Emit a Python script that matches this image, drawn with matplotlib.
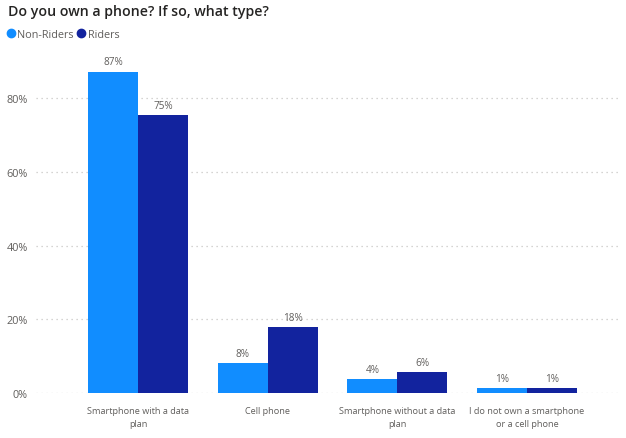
import matplotlib
matplotlib.use("Agg")
import matplotlib.pyplot as plt
from matplotlib.lines import Line2D
import numpy as np

categories = ["Smartphone with a data\nplan", "Cell phone",
              "Smartphone without a data\nplan", "I do not own a smartphone\nor a cell phone"]
non_riders = [87.2, 8.1, 3.8, 1.4]
riders = [75.4, 17.9, 5.7, 1.4]
non_riders_labels = ["87%", "8%", "4%", "1%"]
riders_labels = ["75%", "18%", "6%", "1%"]
yticks = [0, 20, 40, 60, 80]
ytick_labels = ["0%", "20%", "40%", "60%", "80%"]

plt.rcParams['font.family'] = ['Open Sans', 'DejaVu Sans']

c_non = "#118DFF"
c_rid = "#12239E"
gray = "#605E5C"

fig = plt.figure(figsize=(6.26, 4.39), dpi=100)
ax = fig.add_axes([0.0575, 0.1025, 0.9329, 0.7556])

x = np.arange(len(categories))
w = 0.385
b1 = ax.bar(x - w / 2, non_riders, w, color=c_non, zorder=3)
b2 = ax.bar(x + w / 2, riders, w, color=c_rid, zorder=3)
ax.bar_label(b1, labels=non_riders_labels, padding=3, fontsize=7.2, color=gray)
ax.bar_label(b2, labels=riders_labels, padding=3, fontsize=7.2, color=gray)

ax.set_xlim(-0.786, 3.716)
ax.set_ylim(0, 90)
ax.set_yticks(yticks)
ax.set_yticklabels(ytick_labels, fontsize=7.8, color=gray)
ax.set_xticks(x)
ax.set_xticklabels(categories, fontsize=6.6, color=gray, linespacing=1.6)
ax.tick_params(axis='both', length=0)
ax.tick_params(axis='y', pad=6)
ax.tick_params(axis='x', pad=9.5)
for s in ax.spines.values():
    s.set_visible(False)
ax.yaxis.grid(True, color="#C8C6C4", linewidth=0.9, linestyle=(0, (1, 3)), zorder=0)
ax.set_axisbelow(True)

fig.text(0.012, 0.973, "Do you own a phone? If so, what type?", fontsize=10.2,
         fontweight='semibold', color="#252423", va='center', ha='left')

handles = [Line2D([], [], marker='o', linestyle='', color=c_non, markersize=6),
           Line2D([], [], marker='o', linestyle='', color=c_rid, markersize=6)]
fig.legend(handles, ["Non-Riders", "Riders"], loc='center left',
           bbox_to_anchor=(0.0, 0.92), ncol=2, frameon=False, fontsize=7.8,
           labelcolor=gray, handlelength=0.6, handletextpad=0.3, columnspacing=0.4,
           borderaxespad=0.3)

fig.savefig("out.png", dpi=100)
